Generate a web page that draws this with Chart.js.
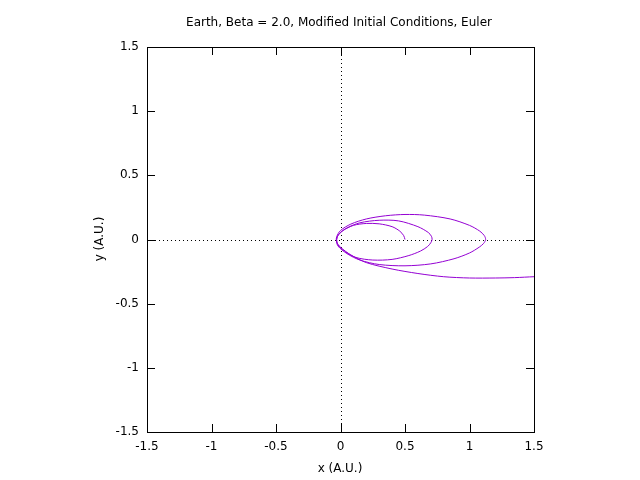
<!DOCTYPE html>
<html><head><meta charset="utf-8">
<script src="https://cdn.jsdelivr.net/npm/chart.js@4/dist/chart.umd.min.js"></script>
<style>html,body{margin:0;padding:0;background:#fff}#c{display:block}</style>
</head><body>
<canvas id="c" width="640" height="480"></canvas>
<script>
const titleText = "Earth, Beta = 2.0, Modified Initial Conditions, Euler";
const xLabel = "x (A.U.)";
const yLabel = "y (A.U.)";
const tickValues = [-1.5,-1,-0.5,0,0.5,1,1.5];
const orbitX = [0.5,0.49,0.46,0.40,0.30,0.2,0.1,0.02,-0.02,-0.03,-0.02,0.03,0.12,0.25,0.4,0.53,0.62,0.675,0.7,0.71,0.705,0.68,0.6,0.45,0.3,0.15,0.05,-0.01,-0.03,-0.02,0.05,0.15,0.3,0.5,0.7,0.88,1.0,1.075,1.11,1.125,1.115,1.08,1.0,0.85,0.65,0.5,0.35,0.2,0.08,0,-0.03,-0.03,0.0,0.08,0.2,0.4,0.6,0.8,1.0,1.2,1.35,1.5,1.6];
const orbitY = [0,0.03,0.065,0.1,0.122,0.125,0.11,0.07,0.03,0,-0.04,-0.09,-0.14,-0.16,-0.155,-0.125,-0.09,-0.055,-0.025,0,0.025,0.055,0.1,0.145,0.15,0.13,0.09,0.045,0,-0.05,-0.11,-0.16,-0.195,-0.205,-0.19,-0.15,-0.105,-0.06,-0.03,0,0.03,0.065,0.11,0.16,0.19,0.195,0.185,0.16,0.12,0.07,0.02,-0.02,-0.06,-0.12,-0.18,-0.23,-0.265,-0.29,-0.3,-0.3,-0.297,-0.29,-0.287];
const pts = orbitX.map((x,i)=>({x:x,y:orbitY[i]}));
const FONT = '12px "DejaVu Sans", sans-serif';
const deco = {
  id:'deco',
  beforeDatasetsDraw(ch){
    const c=ch.ctx,a=ch.chartArea,xs=ch.scales.x,ys=ch.scales.y;
    c.save();c.strokeStyle='#000';c.lineWidth=1;c.setLineDash([1,3]);
    const x0=Math.round(xs.getPixelForValue(0))+0.5, y0=Math.round(ys.getPixelForValue(0))+0.5;
    c.beginPath();c.moveTo(x0,a.top);c.lineTo(x0,a.bottom);c.moveTo(a.left,y0);c.lineTo(a.right,y0);c.stroke();
    c.restore();
  },
  afterDraw(ch){
    const c=ch.ctx,a=ch.chartArea,xs=ch.scales.x,ys=ch.scales.y;
    c.save();c.strokeStyle='#000';c.lineWidth=1;
    c.strokeRect(Math.round(a.left)+0.5,Math.round(a.top)+0.5,Math.round(a.right-a.left),Math.round(a.bottom-a.top));
    c.beginPath();
    tickValues.forEach(v=>{
      const px=Math.round(xs.getPixelForValue(v))+0.5, py=Math.round(ys.getPixelForValue(v))+0.5;
      c.moveTo(px,a.bottom);c.lineTo(px,a.bottom-8);c.moveTo(px,a.top);c.lineTo(px,a.top+8);
      c.moveTo(a.left,py);c.lineTo(a.left+8,py);c.moveTo(a.right,py);c.lineTo(a.right-8,py);
    });
    c.stroke();
    c.fillStyle='#000';c.font=FONT;c.textAlign='center';c.textBaseline='middle';
    tickValues.forEach(v=>{
      c.fillText(String(v),xs.getPixelForValue(v),447);
    });
    c.textAlign='right';
    tickValues.forEach(v=>{ c.fillText(String(v),139,ys.getPixelForValue(v)); });
    c.textAlign='center';
    c.fillText(titleText,339,23);
    c.fillText(xLabel,340,469);
    c.translate(100,239);c.rotate(-Math.PI/2);c.fillText(yLabel,0,0);
    c.restore();
  }
};
new Chart(document.getElementById('c'),{
  type:'scatter',
  data:{datasets:[{data:pts,showLine:true,borderColor:'#9400d3',borderWidth:1,pointRadius:0,tension:0.3,fill:false}]},
  options:{
    responsive:false,animation:false,
    layout:{padding:{top:47,right:106,left:0,bottom:0}},
    plugins:{legend:{display:false},tooltip:{enabled:false}},
    scales:{
      x:{type:'linear',min:-1.5,max:1.5,grid:{display:false},border:{display:false},ticks:{display:false},afterFit(s){s.height=48;}},
      y:{type:'linear',min:-1.5,max:1.5,grid:{display:false},border:{display:false},ticks:{display:false},afterFit(s){s.width=147;}}
    }
  },
  plugins:[deco]
});
</script>
</body></html>
